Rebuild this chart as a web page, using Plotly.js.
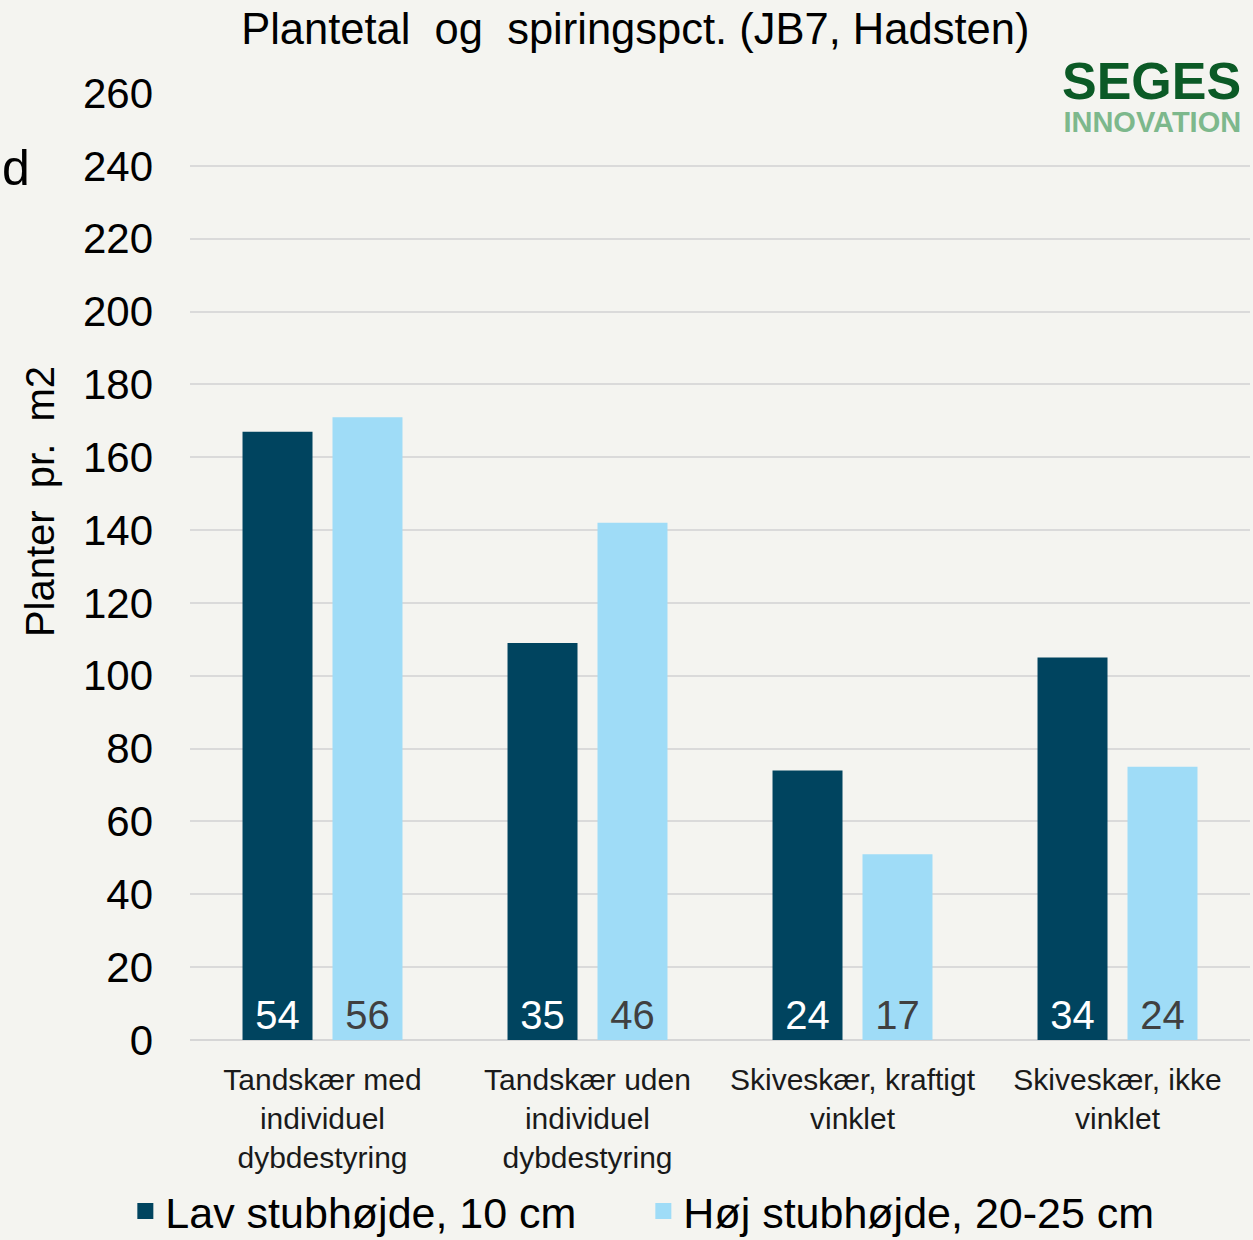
<!DOCTYPE html>
<html>
<head>
<meta charset="utf-8">
<script src="https://cdn.plot.ly/plotly-3.0.1.min.js"></script>
<style>
  html, body { margin: 0; padding: 0; background: #f4f4f0; }
  #chart { width: 1253px; height: 1240px; }
</style>
</head>
<body>
<div id="chart"></div>
<script>
const categories = [
  "Tandskær med<br>individuel<br>dybdestyring",
  "Tandskær uden<br>individuel<br>dybdestyring",
  "Skiveskær, kraftigt<br>vinklet",
  "Skiveskær, ikke<br>vinklet"
];
const seriesNames = ["Lav stubhøjde, 10 cm", "Høj stubhøjde, 20-25 cm"];
const lavPlanter = [167, 109, 74, 105];
const hojPlanter = [171, 142, 51, 75];
const lavSpiring = [54, 35, 24, 34];
const hojSpiring = [56, 46, 17, 24];
const yTicks = [0, 20, 40, 60, 80, 100, 120, 140, 160, 180, 200, 220, 240, 260];

const FONT = "Arial, 'Liberation Sans', sans-serif";
const DARK = "#00445f";
const LIGHT = "#9fdcf7";
const BG = "#f4f4f0";

const traces = [
  {
    type: "bar", name: seriesNames[0], x: categories, y: lavPlanter,
    text: lavSpiring.map(String), textposition: "inside", insidetextanchor: "start",
    textangle: 0, constraintext: "none",
    insidetextfont: { family: FONT, size: 40, color: "#ffffff" },
    marker: { color: DARK }, hoverinfo: "skip",
    showlegend: false, legendgroup: "lav"
  },
  {
    type: "bar", name: seriesNames[1], x: categories, y: hojPlanter,
    text: hojSpiring.map(String), textposition: "inside", insidetextanchor: "start",
    textangle: 0, constraintext: "none",
    insidetextfont: { family: FONT, size: 40, color: "#404040" },
    marker: { color: LIGHT }, hoverinfo: "skip",
    showlegend: false, legendgroup: "hoj"
  },
  // legend entries (square swatches)
  {
    type: "scatter", mode: "markers", name: seriesNames[0], x: [null], y: [null],
    marker: { symbol: "square", size: 16, color: DARK }, legendgroup: "lav", hoverinfo: "skip"
  },
  {
    type: "scatter", mode: "markers", name: seriesNames[1], x: [null], y: [null],
    marker: { symbol: "square", size: 16, color: LIGHT }, legendgroup: "hoj", hoverinfo: "skip"
  }
];

const layout = {
  width: 1253, height: 1240,
  paper_bgcolor: BG, plot_bgcolor: BG,
  font: { family: FONT, color: "#000000" },
  margin: { l: 190, r: 3, t: 93, b: 200, pad: 0, autoexpand: false },
  barmode: "group", bargap: 0.321, bargroupgap: 0.222,
  title: {
    text: "Plantetal&nbsp; og&nbsp; spiringspct. (JB7, Hadsten)",
    font: { family: FONT, size: 43.5, color: "#000000" },
    x: 0.507, xref: "container", xanchor: "center",
    y: 0.977, yref: "container", yanchor: "middle"
  },
  xaxis: {
    type: "category", showgrid: false, zeroline: false, showline: false,
    ticks: "", ticklabelstandoff: 19,
    tickfont: { family: FONT, size: 30, color: "#1a1a1a" },
    fixedrange: true
  },
  yaxis: {
    range: [0, 260], tickvals: yTicks, ticktext: yTicks.map(String),
    showgrid: true, gridcolor: "#dadada", gridwidth: 2,
    zeroline: true, zerolinecolor: "#d6d6d6", zerolinewidth: 2,
    ticks: "", ticklabelstandoff: 36,
    tickfont: { family: FONT, size: 42, color: "#000000" },
    fixedrange: true
  },
  showlegend: true,
  legend: {
    orientation: "h", xref: "paper", x: -0.061, xanchor: "left",
    yref: "paper", y: (1040 - 1211) / 947, yanchor: "middle",
    font: { family: FONT, size: 43, color: "#000000" },
    entrywidth: 473, entrywidthmode: "pixels",
    bgcolor: "rgba(0,0,0,0)", traceorder: "normal"
  },
  annotations: [
    {
      text: "Planter&nbsp; pr.&nbsp; m2", textangle: -90, showarrow: false,
      xref: "paper", yref: "paper", x: -0.1415, y: 0.568,
      xanchor: "center", yanchor: "middle",
      font: { family: FONT, size: 40, color: "#000000" }
    },
    {
      text: "d", showarrow: false, xref: "paper", yref: "paper",
      x: -0.179, y: 0.921, xanchor: "left", yanchor: "middle",
      font: { family: FONT, size: 50, color: "#000000" }
    },
    {
      text: "<span style='font-size:52px;color:#0b5a26'><b>SEGES</b></span><br>" +
            "<span style='font-size:29px;color:#7db88c'><b>INNOVATION</b></span>",
      showarrow: false, xref: "paper", yref: "paper", align: "right",
      x: 0.9934, y: (1040 - 95) / 947, xanchor: "right", yanchor: "middle",
      font: { family: FONT, size: 25, color: "#0b5a26" }
    }
  ]
};

Plotly.newPlot("chart", traces, layout, { displayModeBar: false, staticPlot: true });
</script>
</body>
</html>
